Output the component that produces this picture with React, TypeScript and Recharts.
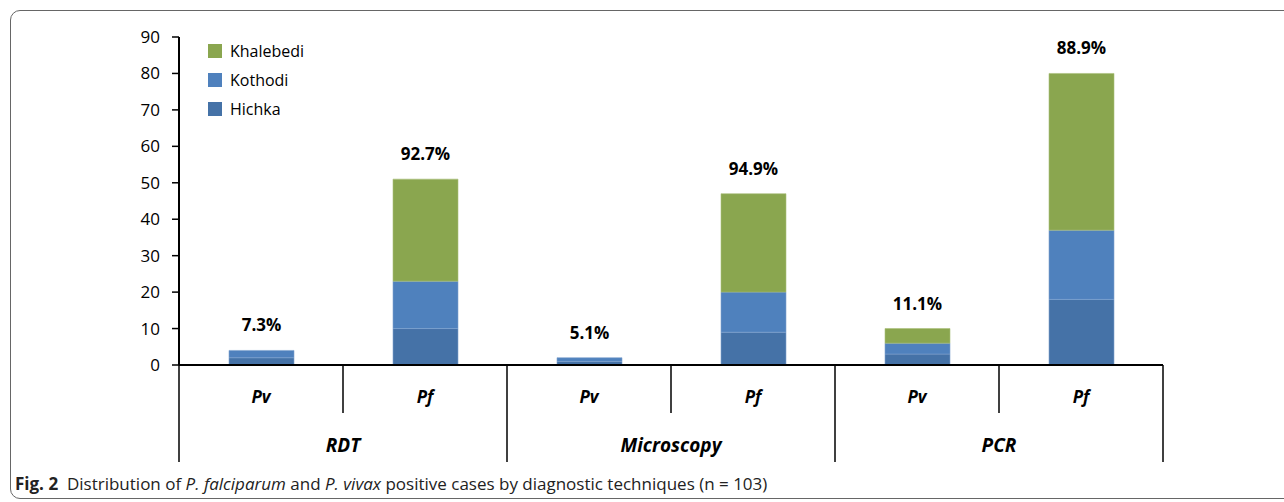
import React from "react";
import { BarChart, Bar, XAxis, YAxis, LabelList } from "recharts";

// cases per village, by technique and species
const techniques = ["RDT", "RDT", "Microscopy", "Microscopy", "PCR", "PCR"];
const species = ["Pv", "Pf", "Pv", "Pf", "Pv", "Pf"];
const hichka = [2, 10, 1, 9, 3, 18];
const kothodi = [2, 13, 1, 11, 3, 19];
const khalebedi = [0, 28, 0, 27, 4, 43];
const shares = ["7.3%", "92.7%", "5.1%", "94.9%", "11.1%", "88.9%"];
const yTicks = [0, 10, 20, 30, 40, 50, 60, 70, 80, 90];

const data = species.map((s, i) => ({
  key: `${techniques[i]}-${s}`,
  species: s,
  technique: techniques[i],
  Hichka: hichka[i],
  Kothodi: kothodi[i],
  Khalebedi: khalebedi[i],
  share: shares[i],
}));

const COLORS = {
  Khalebedi: "#8aa64f",
  Kothodi: "#4f81bd",
  Hichka: "#4572a7",
};

const FONT = "'Open Sans', 'DejaVu Sans', sans-serif";
const LABEL_OFFSET = 19;

function CategoryTick(props: any) {
  const { x, y, payload, index, width, visibleTicksCount } = props;
  const band = width / (visibleTicksCount || data.length);
  const row = data[index];
  const left = x - band / 2;
  const groupStart = index % 2 === 0;
  const last = index === data.length - 1;
  return (
    <g>
      <line
        x1={left}
        y1={y}
        x2={left}
        y2={y + (groupStart ? 97 : 48)}
        stroke="#000"
        strokeWidth={1.5}
      />
      {last && (
        <line x1={x + band / 2} y1={y} x2={x + band / 2} y2={y + 97} stroke="#000" strokeWidth={1.5} />
      )}
      <text
        x={x}
        y={y + 38}
        textAnchor="middle"
        fontSize={17}
        fontWeight={700}
        fontStyle="italic"
        fill="#000"
      >
        {payload.value}
      </text>
      {!groupStart && row && (
        <text
          x={left}
          y={y + 87}
          textAnchor="middle"
          fontSize={19}
          fontWeight={700}
          fontStyle="italic"
          fill="#000"
        >
          {row.technique}
        </text>
      )}
    </g>
  );
}

function shareText(x: number, y: number, text: string) {
  return (
    <text
      x={x}
      y={y - LABEL_OFFSET}
      textAnchor="middle"
      fill="#000"
      fontSize={17}
      fontWeight={700}
    >
      {text}
    </text>
  );
}

// Khalebedi is empty for some stacks, so their label hangs off the Kothodi segment
function KothodiTopLabel(props: any) {
  const { x, y, width, value } = props;
  const row = data.find((d) => d.share === value);
  if (!row || row.Khalebedi !== 0) return null;
  return shareText(x + width / 2, y, row.share);
}

function KhalebediTopLabel(props: any) {
  const { x, y, width, value } = props;
  const row = data.find((d) => d.share === value);
  if (!row || row.Khalebedi === 0) return null;
  return shareText(x + width / 2, y, row.share);
}

function VillageLegend() {
  const items = ["Khalebedi", "Kothodi", "Hichka"] as const;
  return (
    <div style={{ fontFamily: FONT, fontSize: 16, color: "#000" }}>
      {items.map((name) => (
        <div key={name} style={{ display: "flex", alignItems: "center", height: 29 }}>
          <span
            style={{
              display: "inline-block",
              width: 14,
              height: 14,
              background: COLORS[name],
              marginRight: 8,
            }}
          />
          {name}
        </div>
      ))}
    </div>
  );
}

export default function App() {
  return (
    <div
      style={{
        position: "absolute",
        left: 0,
        top: 0,
        width: 1284,
        height: 502,
        background: "#fff",
        overflow: "hidden",
        fontFamily: FONT,
      }}
    >
      <div
        style={{
          position: "absolute",
          left: 10,
          top: 10,
          width: 1300,
          height: 489,
          border: "1px solid #666",
          borderRadius: 10,
          boxSizing: "border-box",
        }}
      />
      <div style={{ position: "absolute", left: 0, top: 0 }}>
        <BarChart
          width={1284}
          height={502}
          data={data}
          margin={{ top: 37, right: 121, bottom: 37, left: 129 }}
          barSize={65}
          style={{ fontFamily: FONT }}
        >
          <XAxis
            dataKey="species"
            height={100}
            axisLine={{ stroke: "#000", strokeWidth: 2 }}
            tickLine={false}
            tickSize={0}
            tickMargin={0}
            interval={0}
            tick={<CategoryTick />}
          />
          <YAxis
            width={50}
            domain={[0, 90]}
            ticks={yTicks}
            interval={0}
            axisLine={{ stroke: "#000", strokeWidth: 2 }}
            tickLine={{ stroke: "#000", strokeWidth: 1.5 }}
            tickSize={7}
            tickMargin={12}
            tick={{ fill: "#000", fontSize: 17 }}
          />
          <Bar dataKey="Hichka" stackId="a" fill={COLORS.Hichka} stroke="#7fa3cf" strokeWidth={0.6} isAnimationActive={false} />
          <Bar dataKey="Kothodi" stackId="a" fill={COLORS.Kothodi} stroke="#7fa3cf" strokeWidth={0.6} isAnimationActive={false}>
            <LabelList dataKey="share" content={<KothodiTopLabel />} />
          </Bar>
          <Bar dataKey="Khalebedi" stackId="a" fill={COLORS.Khalebedi} stroke="#a9c07a" strokeWidth={0.6} isAnimationActive={false}>
            <LabelList dataKey="share" content={<KhalebediTopLabel />} />
          </Bar>
        </BarChart>
      </div>
      <div style={{ position: "absolute", left: 208, top: 36 }}>
        <VillageLegend />
      </div>
      <div
        style={{
          position: "absolute",
          left: 15,
          top: 472,
          fontSize: 17,
          color: "#222",
          whiteSpace: "nowrap",
        }}
      >
        <b>Fig. 2</b>&nbsp; Distribution of <i>P. falciparum</i> and{" "}
        <i>P. vivax</i> positive cases by diagnostic techniques (n = 103)
      </div>
    </div>
  );
}
